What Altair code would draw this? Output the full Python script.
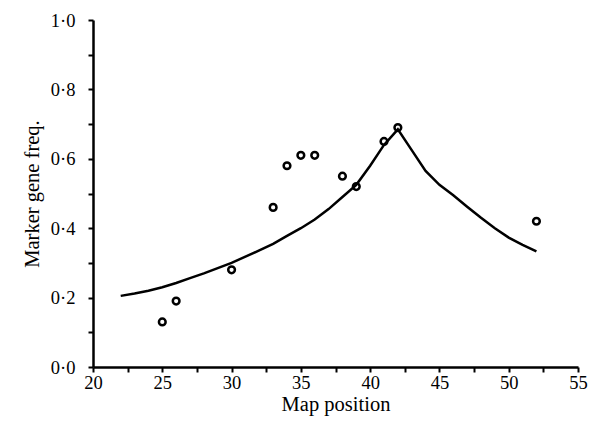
import altair as alt
import pandas as pd

# observed points
obs_x = [25, 26, 30, 33, 34, 35, 36, 38, 39, 41, 42, 52]
obs_y = [0.13, 0.19, 0.28, 0.46, 0.58, 0.61, 0.61, 0.55, 0.52, 0.65, 0.69, 0.42]

# fitted curve
fit_x = [22, 23, 24, 25, 26, 27, 28, 29, 30, 31, 32, 33, 34, 35, 36, 37, 38, 39, 40, 41, 42,
         43, 44, 44.5, 45, 46, 47, 48, 49, 50, 51, 52]
fit_y = [0.205, 0.212, 0.22, 0.23, 0.242, 0.256, 0.27, 0.285, 0.30, 0.318, 0.336, 0.355, 0.378,
         0.40, 0.425, 0.455, 0.49, 0.525, 0.58, 0.64, 0.685,
         0.625, 0.565, 0.545, 0.525, 0.495, 0.462, 0.43, 0.40, 0.373, 0.352, 0.333]

x_ticks = [20, 22.5, 25, 27.5, 30, 32.5, 35, 37.5, 40, 42.5, 45, 47.5, 50, 52.5, 55]
y_ticks = [0.0, 0.1, 0.2, 0.3, 0.4, 0.5, 0.6, 0.7, 0.8, 0.9, 1.0]

df = pd.concat([
    pd.DataFrame({"x": fit_x, "y": fit_y, "kind": "fit"}),
    pd.DataFrame({"x": obs_x, "y": obs_y, "kind": "obs"}),
], ignore_index=True)

FONT = "Liberation Serif"

common = dict(grid=False, domain=True, domainColor="black", domainWidth=2.5,
              ticks=True, tickColor="black", tickWidth=2, tickSize=5,
              labelFont=FONT, labelFontSize=18.5, labelColor="black",
              labelFlush=False, labelOverlap=False,
              titleFont=FONT, titleFontSize=20.5, titleFontWeight="normal", titleColor="black")

x_enc = alt.X("x:Q", scale=alt.Scale(domain=[20, 55], nice=False, zero=False),
              axis=alt.Axis(title="Map position", values=x_ticks,
                            labelExpr="datum.value % 5 == 0 ? datum.label : ''",
                            labelPadding=1, titlePadding=3, **common))
y_enc = alt.Y("y:Q", scale=alt.Scale(domain=[0, 1], nice=False),
              axis=alt.Axis(title="Marker gene freq.", values=y_ticks,
                            labelExpr="(round(datum.value*10) % 2 == 0) ? replace(format(datum.value, '.1f'), '.', '·') : ''",
                            labelPadding=13, titlePadding=8, **common))

base = alt.Chart(df).encode(x=x_enc, y=y_enc)

line = base.transform_filter(alt.datum.kind == "fit").mark_line(color="black", strokeWidth=2.5)
pts = base.transform_filter(alt.datum.kind == "obs").mark_point(
    shape="circle", filled=False, color="black", strokeWidth=2.5, size=45, opacity=1)

chart = alt.layer(line, pts).properties(
    width=485, height=347,
    background="white",
    autosize=alt.AutoSizeParams(type="none"),
    padding={"left": 85, "top": 12, "right": 12, "bottom": 50},
).configure_view(stroke=None)

chart.save("out.html", embed_options={"renderer": "svg", "actions": False})
